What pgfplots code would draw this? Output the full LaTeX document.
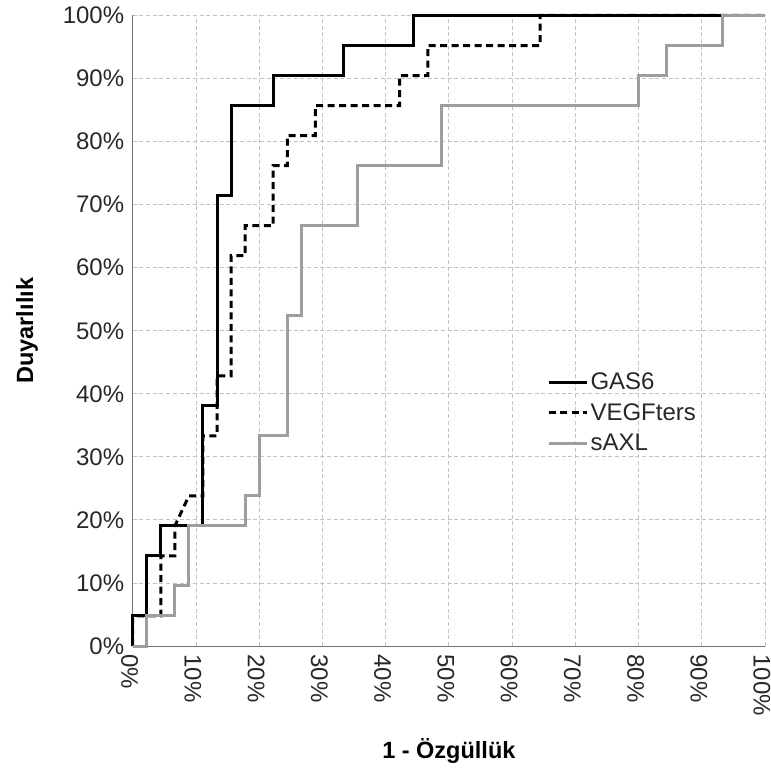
\documentclass[border=0pt]{standalone}
\usepackage{fontspec}
\setmainfont{Liberation Sans}
\usepackage{pgfplots}
\pgfplotsset{compat=1.18}
\definecolor{saxl}{RGB}{158,158,158}
\definecolor{gridc}{RGB}{195,195,195}
\definecolor{txt}{RGB}{40,40,40}
\begin{document}
\begin{tikzpicture}
\path[use as bounding box] (-132.7pt,-125pt) rectangle (638.3pt,646pt);
\begin{axis}[
  scale only axis, width=632.3pt, height=630.5pt,
  at={(0pt,0pt)}, anchor=south west,
  xmin=0, xmax=100, ymin=0, ymax=100,
  axis lines=left, axis line style={-, black!55, line width=1pt},
  xtick={0,10,20,30,40,50,60,70,80,90,100},
  ytick={0,10,20,30,40,50,60,70,80,90,100},
  xticklabels={0\%,10\%,20\%,30\%,40\%,50\%,60\%,70\%,80\%,90\%,100\%},
  yticklabels={0\%,10\%,20\%,30\%,40\%,50\%,60\%,70\%,80\%,90\%,100\%},
  major tick length=0pt,
  grid=major,
  grid style={gridc, line width=0.8pt, dash pattern=on 4pt off 2.7pt},
  tick label style={font=\fontsize{24}{28}\selectfont, text=txt},
  xticklabel style={xshift=-3pt, yshift=-5pt, rotate=-90, anchor=west},
  yticklabel style={anchor=east, xshift=-5pt},
  xlabel={\textbf{1 - Özgüllük}},
  ylabel={\textbf{Duyarlılık}},
  every axis x label/.style={at={(axis description cs:0.5,-0.1665)}, anchor=center, font=\fontsize{23.5}{27}\selectfont},
  every axis y label/.style={at={(axis description cs:-0.167,0.5)}, anchor=center, rotate=90, font=\fontsize{23.5}{27}\selectfont},
  clip=false,
  legend style={draw=none, fill=none, at={(0.655,0.37)}, anchor=west,
    font=\fontsize{24}{28}\selectfont, text=txt, row sep=7.5pt, inner sep=0pt,
    nodes={inner sep=2.5pt}},
  legend cell align=left,
  legend image code/.code={\draw[#1] (0pt,0pt) -- (38pt,0pt);},
]
\addplot[black, line width=3pt] coordinates {
(0,0)(0,4.762)(2.222,4.762)(2.222,14.286)(4.444,14.286)(4.444,19.048)(11.111,19.048)(11.111,38.095)(13.333,38.095)(13.333,71.429)(15.556,71.429)(15.556,85.714)(22.222,85.714)(22.222,90.476)(33.333,90.476)(33.333,95.238)(44.444,95.238)(44.444,100)(100,100)
};
\addlegendentry{GAS6}
\addplot[black, line width=3pt, dash pattern=on 7pt off 4.5pt] coordinates {
(0,0)(0,4.762)(4.444,4.762)(4.444,14.286)(6.667,14.286)(6.667,19.048)(8.889,23.810)(11.111,23.810)(11.111,33.333)(13.333,33.333)(13.333,42.857)(15.556,42.857)(15.556,61.905)(17.778,61.905)(17.778,66.667)(22.222,66.667)(22.222,76.190)(24.444,76.190)(24.444,80.952)(28.889,80.952)(28.889,85.714)(42.222,85.714)(42.222,90.476)(46.667,90.476)(46.667,95.238)(64.444,95.238)(64.444,100)(100,100)
};
\addlegendentry{VEGFters}
\addplot[saxl, line width=3pt] coordinates {
(0,0)(2.222,0)(2.222,4.762)(6.667,4.762)(6.667,9.524)(8.889,9.524)(8.889,19.048)(17.778,19.048)(17.778,23.810)(20,23.810)(20,33.333)(24.444,33.333)(24.444,52.381)(26.667,52.381)(26.667,66.667)(35.556,66.667)(35.556,76.190)(48.889,76.190)(48.889,85.714)(80,85.714)(80,90.476)(84.444,90.476)(84.444,95.238)(93.333,95.238)(93.333,100)(100,100)
};
\addlegendentry{sAXL}
\end{axis}
\end{tikzpicture}
\end{document}
